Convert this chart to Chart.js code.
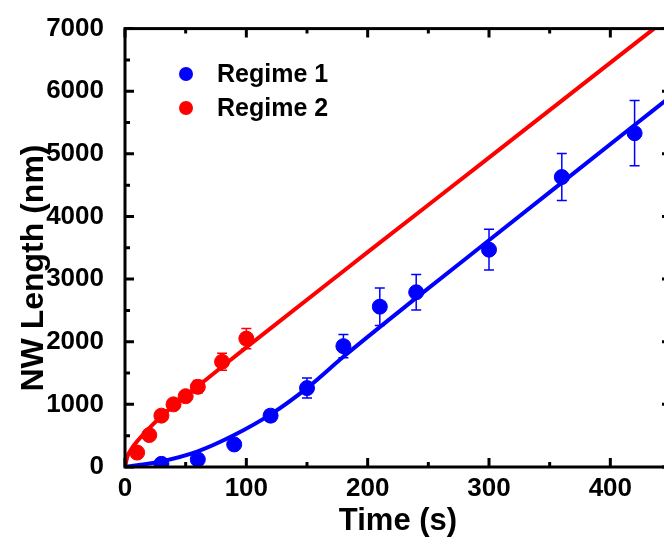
<!DOCTYPE html>
<html>
<head>
<meta charset="utf-8">
<script src="https://cdn.jsdelivr.net/npm/chart.js@4"></script>
<style>
  html, body { margin: 0; padding: 0; overflow: hidden; background: #fff; }
  canvas { display: block; }
</style>
</head>
<body>
<canvas id="chart" width="680" height="537"></canvas>
<script>
    // measured growth, regime 1 (blue)
    const regime1Time = [30, 60, 90, 120, 150, 180, 210, 240, 300, 360, 420];
    const regime1Length = [50, 120, 360, 820, 1260, 1930, 2560, 2790, 3470, 4630, 5330];
    const regime1Err = [0, 0, 0, 90, 160, 185, 300, 285, 325, 375, 520];

    // measured growth, regime 2 (red)
    const regime2Time = [10, 20, 30, 40, 50, 60, 80, 100];
    const regime2Length = [230, 510, 820, 1000, 1130, 1280, 1680, 2050];
    const regime2Err = [0, 0, 0, 0, 60, 100, 135, 160];

    // fitted curves
    const fit1Time = [0, 30, 60, 90, 120, 150, 180, 240, 300, 360, 420, 450];
    const fit1Length = [0, 90, 250, 510, 840, 1260, 1760, 2700, 3620, 4540, 5460, 5920];
    const fit2Time = [0, 2, 5, 10, 20, 30, 40, 60, 80, 100, 200, 300, 436];
    const fit2Length = [0, 170, 280, 410, 620, 810, 980, 1290, 1600, 1910, 3430, 4940, 7000];

    // axes
    const xTicks = [0, 100, 200, 300, 400];
    const yTicks = [0, 1000, 2000, 3000, 4000, 5000, 6000, 7000];

    const BLUE = '#0000ff';
    const RED = '#ff0000';
    const FONT = '"Liberation Sans", Arial, sans-serif';

    function toPoints(xs, ys) {
      return xs.map((x, i) => ({x: x, y: ys[i]}));
    }

    // frame, inward ticks, error bars, legend and axis titles
    const decorations = {
      id: 'decorations',
      afterDatasetsDraw(chart) {
        const ctx = chart.ctx;
        const xs = chart.scales.x;
        const ys = chart.scales.y;
        const a = chart.chartArea;

        // error bars
        ctx.save();
        ctx.lineWidth = 1.5;
        [[regime1Time, regime1Length, regime1Err, BLUE], [regime2Time, regime2Length, regime2Err, RED]].forEach(set => {
          const [t, l, e, color] = set;
          ctx.strokeStyle = color;
          t.forEach((tv, i) => {
            if (!e[i]) return;
            const px = xs.getPixelForValue(tv);
            const top = ys.getPixelForValue(l[i] + e[i]);
            const bot = ys.getPixelForValue(l[i] - e[i]);
            ctx.beginPath();
            ctx.moveTo(px, top); ctx.lineTo(px, bot);
            ctx.moveTo(px - 5, top); ctx.lineTo(px + 5, top);
            ctx.moveTo(px - 5, bot); ctx.lineTo(px + 5, bot);
            ctx.stroke();
          });
        });
        ctx.restore();

        // frame
        ctx.save();
        ctx.strokeStyle = '#000';
        ctx.lineWidth = 3;
        ctx.strokeRect(a.left, a.top, a.right - a.left, a.bottom - a.top);

        // ticks pointing into the plot
        ctx.beginPath();
        for (let v = 0; v <= 450; v += 50) {
          const len = v % 100 === 0 ? 9 : 5;
          const px = xs.getPixelForValue(v);
          ctx.moveTo(px, a.bottom); ctx.lineTo(px, a.bottom - len);
          ctx.moveTo(px, a.top); ctx.lineTo(px, a.top + len);
        }
        for (let v = 0; v <= 7000; v += 500) {
          const len = v % 1000 === 0 ? 9 : 5;
          const py = ys.getPixelForValue(v);
          ctx.moveTo(a.left, py); ctx.lineTo(a.left + len, py);
          ctx.moveTo(a.right, py); ctx.lineTo(a.right - len, py);
        }
        ctx.stroke();
        ctx.restore();

        // legend
        ctx.save();
        ctx.font = 'bold 25px ' + FONT;
        ctx.fillStyle = '#000';
        [[BLUE, chart.data.datasets[0].label, 74], [RED, chart.data.datasets[1].label, 108]].forEach(item => {
          ctx.beginPath();
          ctx.fillStyle = item[0];
          ctx.arc(186, item[2], 7, 0, Math.PI * 2);
          ctx.fill();
          ctx.fillStyle = '#000';
          ctx.fillText(item[1], 217, item[2] + 8);
        });

        // axis titles
        ctx.textAlign = 'center';
        ctx.font = 'bold 31px ' + FONT;
        ctx.fillText('Time (s)', (a.left + a.right) / 2, 530);
        ctx.translate(43, 268);
        ctx.rotate(-Math.PI / 2);
        ctx.font = 'bold 32px ' + FONT;
        ctx.fillText('NW Length (nm)', 0, 0);
        ctx.restore();
      }
    };

    const ctx = document.getElementById('chart').getContext('2d');
    const chart = new Chart(ctx, {
      type: 'scatter',
      data: {
        datasets: [{
          label: 'Regime 1',
          data: toPoints(regime1Time, regime1Length),
          backgroundColor: BLUE,
          borderColor: BLUE,
          pointRadius: 7.5,
          clip: 0
        }, {
          label: 'Regime 2',
          data: toPoints(regime2Time, regime2Length),
          backgroundColor: RED,
          borderColor: RED,
          pointRadius: 7.5,
          clip: 0
        }, {
          label: 'Fit 1',
          data: toPoints(fit1Time, fit1Length),
          showLine: true,
          borderColor: BLUE,
          borderWidth: 4,
          pointRadius: 0,
          cubicInterpolationMode: 'monotone',
          clip: 0
        }, {
          label: 'Fit 2',
          data: toPoints(fit2Time, fit2Length),
          showLine: true,
          borderColor: RED,
          borderWidth: 4,
          pointRadius: 0,
          cubicInterpolationMode: 'monotone',
          clip: 0
        }]
      },
      options: {
        responsive: false,
        animation: false,
        layout: { padding: { top: 27, right: 9, left: 0, bottom: 0 } },
        plugins: { legend: { display: false }, tooltip: { enabled: false } },
        scales: {
          x: {
            type: 'linear',
            min: 0,
            max: 450,
            grid: { display: false },
            border: { display: false },
            afterFit: scale => { scale.height = 70; },
            afterBuildTicks: scale => { scale.ticks = xTicks.map(v => ({value: v})); },
            ticks: {
              padding: -2,
              color: '#000',
              maxRotation: 0,
              callback: value => String(value),
              font: { family: FONT, size: 26, weight: 'bold' }
            }
          },
          y: {
            type: 'linear',
            min: 0,
            max: 7000,
            grid: { display: false },
            border: { display: false },
            afterFit: scale => { scale.width = 125; },
            afterBuildTicks: scale => { scale.ticks = yTicks.map(v => ({value: v})); },
            ticks: {
              padding: 13,
              color: '#000',
              callback: value => String(value),
              font: { family: FONT, size: 26, weight: 'bold' }
            }
          }
        }
      },
      plugins: [decorations]
    });
</script>
</body>
</html>
